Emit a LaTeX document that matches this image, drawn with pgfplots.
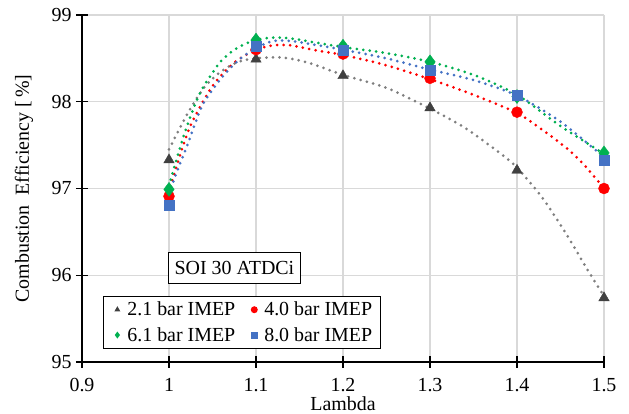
\documentclass[border=0pt]{standalone}
\usepackage{fontspec}
\setmainfont{Liberation Serif}
\usepackage{pgfplots}
\pgfplotsset{compat=1.18}
\definecolor{tri}{HTML}{404040}
\definecolor{triline}{HTML}{7F7F7F}
\definecolor{xred}{HTML}{FF0000}
\definecolor{xgreen}{HTML}{00B050}
\definecolor{xblue}{HTML}{4472C4}
\definecolor{gridc}{HTML}{D9D9D9}
\begin{document}
\begin{tikzpicture}[font=\fontsize{20}{23}\selectfont]
\begin{axis}[
  scale only axis, width=522bp, height=347bp,
  xmin=0.9, xmax=1.5, ymin=95, ymax=99,
  xtick={0.9,1.0,1.1,1.2,1.3,1.4,1.5},
  xticklabels={0.9,1,1.1,1.2,1.3,1.4,1.5},
  ytick={95,96,97,98,99},
  axis x line*=bottom, axis y line*=left,
  axis line style={black, line width=1.5bp, -},
  grid=major, grid style={gridc, line width=1.3bp},
  tick align=center, major tick length=12bp,
  tick style={black, line width=1.3bp},
  /pgf/number format/assume math mode=true,
  ticklabel style={font=\fontsize{20}{23}\selectfont},
  xticklabel style={yshift=-7bp},
  yticklabel style={xshift=-1bp},
  xlabel={Lambda}, ylabel={Combustion~ Efficiency [\,\%]},
  xlabel style={at={(axis description cs:0.5,-0.121)}, anchor=center},
  ylabel style={at={(axis description cs:-0.111,0.5)}, anchor=center, rotate=0},
  legend columns=2,
  legend cell align=left,
  legend style={at={(0.04,0.19)}, anchor=north west, draw=black, line width=1bp,
    fill=white, inner xsep=6bp, inner ysep=3.5bp, row sep=6bp,
    nodes={inner xsep=2bp, inner ysep=2bp},
    font=\fontsize{20}{23}\selectfont,
    /tikz/every even column/.append style={column sep=9bp}},
  legend image code/.code={\path[draw=none, fill=none] (0bp,0bp) rectangle (16bp,0bp); \draw[#1,mark size=3.5bp, draw opacity=0] plot coordinates {(8bp,0bp)};},
]
% trendlines
\addplot[forget plot, triline, smooth, line width=3bp, line cap=round, dash pattern=on 0pt off 6.5bp] coordinates {
(1.0,97.45) (1.02,97.84) (1.04,98.16) (1.06,98.35) (1.08,98.46) (1.1,98.50) (1.13,98.51) (1.16,98.45) (1.2,98.31) (1.25,98.16) (1.3,97.92) (1.34,97.70) (1.38,97.41) (1.4,97.24) (1.43,96.88) (1.46,96.42) (1.48,96.08) (1.5,95.76)};
\addplot[forget plot, xred, smooth, line width=3bp, line cap=round, dash pattern=on 0pt off 6.5bp] coordinates {
(1.0,96.95) (1.01,97.30) (1.025,97.73) (1.05,98.18) (1.075,98.45) (1.1,98.60) (1.12,98.65) (1.14,98.65) (1.17,98.59) (1.2,98.54) (1.25,98.42) (1.3,98.26) (1.35,98.08) (1.4,97.87) (1.43,97.67) (1.46,97.44) (1.48,97.24) (1.5,97.00)};
\addplot[forget plot, xgreen, smooth, line width=3bp, line cap=round, dash pattern=on 0pt off 6.5bp] coordinates {
(1.0,97.03) (1.01,97.38) (1.02,97.70) (1.03,97.97) (1.04,98.18) (1.06,98.47) (1.08,98.63) (1.1,98.71) (1.12,98.74) (1.14,98.73) (1.17,98.68) (1.2,98.63) (1.25,98.56) (1.3,98.46) (1.35,98.31) (1.4,98.08) (1.45,97.72) (1.5,97.40)};
\addplot[forget plot, xblue, smooth, line width=3bp, line cap=round, dash pattern=on 0pt off 6.5bp] coordinates {
(1.0,96.94) (1.01,97.22) (1.02,97.47) (1.03,97.75) (1.04,97.99) (1.06,98.27) (1.08,98.48) (1.1,98.62) (1.12,98.70) (1.14,98.70) (1.16,98.67) (1.2,98.60) (1.25,98.50) (1.3,98.37) (1.35,98.25) (1.4,98.07) (1.45,97.77) (1.5,97.36)};
% markers
\addplot[only marks, mark=triangle*, mark size=6bp, color=tri] coordinates {
(1.0,97.33) (1.1,98.49) (1.2,98.30) (1.3,97.93) (1.4,97.21) (1.5,95.74)};
\addlegendentry{2.1 bar IMEP}
\addplot[only marks, mark=*, mark size=5.5bp, color=xred] coordinates {
(1.0,96.91) (1.1,98.60) (1.2,98.55) (1.3,98.27) (1.4,97.88) (1.5,97.00)};
\addlegendentry{4.0 bar IMEP}
\addplot[only marks, mark=diamond*, mark size=7bp, color=xgreen] coordinates {
(1.0,96.99) (1.1,98.71) (1.2,98.64) (1.3,98.46) (1.4,98.06) (1.5,97.41)};
\addlegendentry{6.1 bar IMEP}
\addplot[only marks, mark=square*, mark size=5bp, color=xblue] coordinates {
(1.0,96.81) (1.1,98.64) (1.2,98.60) (1.3,98.36) (1.4,98.08) (1.5,97.33)};
\addlegendentry{8.0 bar IMEP}
\node[draw=black, line width=1bp, fill=white, inner xsep=6bp, minimum height=31bp] at (rel axis cs:0.292,0.272) {SOI 30 ATDCi};
\end{axis}
\pgfresetboundingbox
\path (current axis.south west) ++(-82bp,-52bp) rectangle ++(629bp,414bp);
\end{tikzpicture}
\end{document}
